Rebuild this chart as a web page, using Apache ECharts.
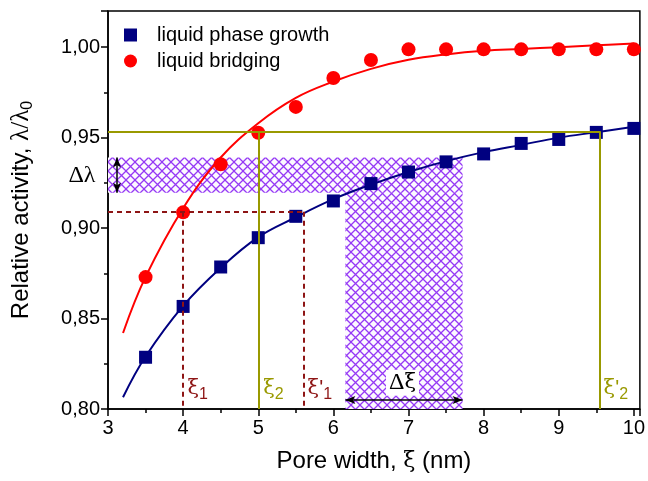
<!DOCTYPE html>
<html>
<head>
<meta charset="utf-8">
<script src="https://cdn.jsdelivr.net/npm/echarts@6/dist/echarts.min.js"></script>
<style>
  html, body { margin: 0; padding: 0; background: #fff; }
  #chart { width: 648px; height: 481px; }
</style>
</head>
<body>
<div id="chart"></div>
<script>
// measured points
const poreX = [3.5, 4, 4.5, 5, 5.5, 6, 6.5, 7, 7.5, 8, 8.5, 9, 9.5, 10];
const phaseGrowth = [0.8286, 0.8567, 0.8785, 0.8947, 0.9065, 0.915, 0.9246, 0.931, 0.9366, 0.941, 0.9468, 0.949, 0.9529, 0.9551];
const bridging = [0.8729, 0.9087, 0.9353, 0.9527, 0.967, 0.983, 0.9929, 0.9988, 0.9988, 0.9988, 0.9988, 0.9988, 0.9988, 0.9988];

// fitted curves
const fitX = [3.2, 3.5, 4, 4.5, 5, 5.5, 6, 6.5, 7, 7.5, 8, 8.5, 9, 9.5, 10];
const phaseFit = [0.8065, 0.829, 0.857, 0.878, 0.895, 0.906, 0.916, 0.924, 0.931, 0.937, 0.942, 0.946, 0.950, 0.953, 0.956];
const bridgingFit = [0.842, 0.873, 0.911, 0.939, 0.958, 0.972, 0.981, 0.988, 0.993, 0.996, 0.998, 0.999, 1.000, 1.001, 1.002];

// construction lines
const lambda1 = 0.909, xi1 = 4, xi1p = 5.61;
const lambda2 = 0.9535, xi2 = 5, xi2p = 9.55;
const bandLambda = [0.9196, 0.939];
const bandXi = [6.16, 7.72];

const myChart = echarts.init(document.getElementById('chart'));

const zip = (xs, ys) => xs.map((x, i) => [x, ys[i]]);

// cross hatch tile for the shaded bands
function hatch() {
  const n = 9;
  const c = document.createElement('canvas');
  c.width = n; c.height = n;
  const g = c.getContext('2d');
  g.fillStyle = '#fcf9ff';
  g.fillRect(0, 0, n, n);
  g.strokeStyle = '#9538f5';
  g.lineWidth = 1.3;
  g.beginPath();
  g.moveTo(-1, -1); g.lineTo(n + 1, n + 1);
  g.moveTo(n + 1, -1); g.lineTo(-1, n + 1);
  g.stroke();
  return c;
}

const sans = 'Liberation Sans';
const serif = 'Liberation Serif';
const xiFont = 'DejaVu Serif';
const darkRed = '#8e1515';
const olive = '#999900';

const xiRich = (color) => ({
  g: { fontFamily: xiFont, fontSize: 21, color: color },
  d: { fontFamily: serif, fontSize: 24, color: color },
  p: { fontFamily: sans, fontSize: 21, color: color },
  s: { fontFamily: sans, fontSize: 16, color: color, padding: [13, 0, 0, 0] }
});

const option = {
  animation: false,
  grid: { left: 108, right: 6, top: 11, bottom: 72, show: true, borderColor: '#000', borderWidth: 1.5 },
  legend: {
    left: 119, top: 20, orient: 'vertical', itemGap: 6,
    itemWidth: 13, itemHeight: 13,
    data: ['liquid phase growth', 'liquid bridging'],
    textStyle: { fontFamily: sans, fontSize: 20, color: '#000', padding: [0, 0, 0, 15] }
  },
  xAxis: {
    type: 'value', min: 3, max: 10.08, interval: 1,
    name: '{t|Pore width, }{g|ξ}{t| (nm)}', nameLocation: 'middle', nameGap: 40,
    nameTextStyle: { rich: { t: { fontFamily: sans, fontSize: 24, color: '#000' }, g: { fontFamily: xiFont, fontSize: 22, color: '#000' } } },
    axisLine: { lineStyle: { color: '#000', width: 1.5 } },
    axisTick: { length: 7, lineStyle: { color: '#000', width: 1.5 } },
    minorTick: { show: true, splitNumber: 2, length: 4, lineStyle: { color: '#000', width: 1.5 } },
    splitLine: { show: false },
    axisLabel: {
      fontFamily: sans, fontSize: 20, color: '#000', margin: 9,
      formatter: v => (Math.abs(v - Math.round(v)) < 1e-6 ? String(Math.round(v)) : '')
    }
  },
  yAxis: {
    type: 'value', min: 0.8, max: 1.02, interval: 0.05,
    name: '{t|Relative activity, }{g|λ/λ}{s|0}', nameLocation: 'middle', nameGap: 72,
    nameTextStyle: { rich: {
      t: { fontFamily: sans, fontSize: 24, color: '#000' },
      g: { fontFamily: serif, fontSize: 25, color: '#000' },
      s: { fontFamily: sans, fontSize: 16, color: '#000', padding: [13, 0, 0, 0] }
    } },
    axisLine: { lineStyle: { color: '#000', width: 1.5 } },
    axisTick: { length: 7, lineStyle: { color: '#000', width: 1.5 } },
    minorTick: { show: true, splitNumber: 2, length: 4, lineStyle: { color: '#000', width: 1.5 } },
    splitLine: { show: false },
    axisLabel: {
      fontFamily: sans, fontSize: 20, color: '#000', margin: 8,
      formatter: v => (v > 1.001 ? '' : v.toFixed(2).replace('.', ','))
    }
  },
  series: [
    {
      name: 'annotations', type: 'line', data: [], z: 1, silent: true,
      markArea: {
        silent: true,
        itemStyle: { color: { image: hatch(), repeat: 'repeat' }, borderWidth: 0 },
        data: [
          [{ coord: [3, bandLambda[0]] }, { coord: [bandXi[1], bandLambda[1]] }],
          [{ coord: [bandXi[0], 0.8] }, { coord: [bandXi[1], bandLambda[0]] }]
        ]
      },
      markLine: {
        silent: true, symbol: ['none', 'none'], label: { show: false },
        data: [
          [{ coord: [3, lambda2], lineStyle: { color: olive, width: 2, type: 'solid' } }, { coord: [xi2p, lambda2] }],
          [{ coord: [xi2, lambda2], lineStyle: { color: olive, width: 2, type: 'solid' } }, { coord: [xi2, 0.8] }],
          [{ coord: [xi2p, lambda2], lineStyle: { color: olive, width: 2, type: 'solid' } }, { coord: [xi2p, 0.8] }],
          [{ coord: [3, lambda1], lineStyle: { color: darkRed, width: 2, type: [5, 4] } }, { coord: [xi1p, lambda1] }],
          [{ coord: [xi1, lambda1], lineStyle: { color: darkRed, width: 2, type: [5, 4] } }, { coord: [xi1, 0.8] }],
          [{ coord: [xi1p, lambda1], lineStyle: { color: darkRed, width: 2, type: [5, 4] } }, { coord: [xi1p, 0.8] }],
          [{ coord: [3.12, bandLambda[0]], symbol: 'arrow', symbolSize: [6, 10], lineStyle: { color: '#000', width: 1.5, type: 'solid' } },
           { coord: [3.12, bandLambda[1]], symbol: 'arrow', symbolSize: [6, 10] }],
          [{ coord: [bandXi[0], 0.805], symbol: 'arrow', symbolSize: [6, 10], lineStyle: { color: '#000', width: 1.5, type: 'solid' } },
           { coord: [bandXi[1], 0.805], symbol: 'arrow', symbolSize: [6, 10] }]
        ]
      },
      markPoint: {
        silent: true, symbol: 'rect', symbolSize: 1, itemStyle: { color: 'rgba(0,0,0,0)' },
        data: [
          { coord: [4.05, 0.8113], label: { show: true, position: 'right', distance: 0, formatter: '{g|ξ}{s|1}', rich: xiRich(darkRed) } },
          { coord: [5.06, 0.8113], label: { show: true, position: 'right', distance: 0, formatter: '{g|ξ}{s|2}', rich: xiRich(olive) } },
          { coord: [5.65, 0.8113], label: { show: true, position: 'right', distance: 0, formatter: "{g|ξ}{p|'}{s|1}", rich: xiRich(darkRed) } },
          { coord: [9.59, 0.8113], label: { show: true, position: 'right', distance: 0, formatter: "{g|ξ}{p|'}{s|2}", rich: xiRich(olive) } },
          { coord: [6.92, 0.8145], label: { show: true, position: 'inside', formatter: '{d|Δ}{g|ξ}', backgroundColor: '#fff', padding: [1, 3], rich: xiRich('#000') } },
          { coord: [3, 0.929], label: { show: true, position: 'left', distance: 12, formatter: '{d|Δλ}', rich: xiRich('#000') } }
        ]
      }
    },
    {
      name: 'phaseFit', type: 'line', data: zip(fitX, phaseFit), smooth: 0.4, showSymbol: false, z: 3,
      lineStyle: { color: '#000080', width: 2 }, silent: true
    },
    {
      name: 'bridgingFit', type: 'line', data: zip(fitX, bridgingFit), smooth: 0.4, showSymbol: false, z: 3,
      lineStyle: { color: '#ff0000', width: 2 }, silent: true
    },
    {
      name: 'liquid phase growth', type: 'scatter', data: zip(poreX, phaseGrowth), z: 4,
      symbol: 'rect', symbolSize: 13, itemStyle: { color: '#000080', opacity: 1 }
    },
    {
      name: 'liquid bridging', type: 'scatter', data: zip(poreX, bridging), z: 4,
      symbol: 'circle', symbolSize: 14, itemStyle: { color: '#ff0000', opacity: 1 }
    }
  ]
};

myChart.setOption(option);
</script>
</body>
</html>
